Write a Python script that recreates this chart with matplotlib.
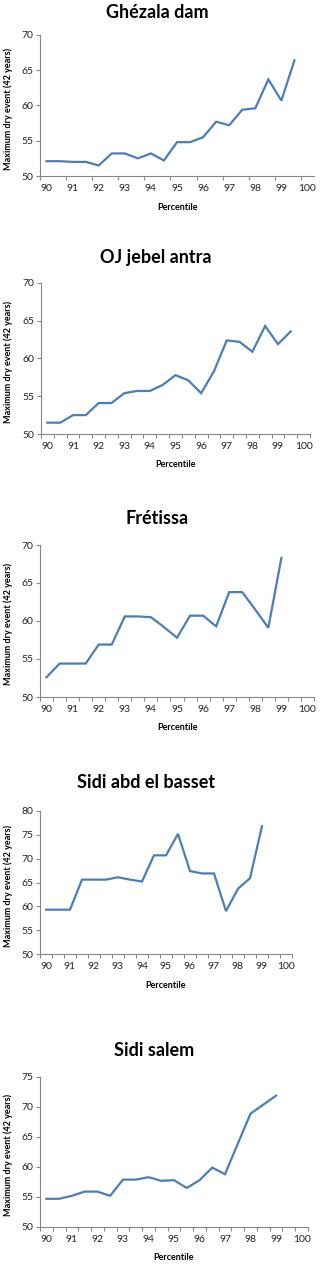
import numpy as np
import matplotlib
matplotlib.use("Agg")
import matplotlib.pyplot as plt
from matplotlib.ticker import FixedLocator

plt.rcParams["font.family"] = ["Lato", "DejaVu Sans"]

LINE_COLOR = "#4A7EBB"
AXIS_COLOR = "#868686"

TITLES = ["Ghézala dam", "OJ jebel antra", "Frétissa", "Sidi abd el basset", "Sidi salem"]
XTICK_LABELS = [90, 91, 92, 93, 94, 95, 96, 97, 98, 99, 100]

pct_long = [90, 90.5, 91, 91.5, 92, 92.5, 93, 93.5, 94, 94.5,
            95, 95.5, 96, 96.5, 97, 97.5, 98, 98.5, 99, 99.5]
pct_short = [90, 90.5, 91, 91.5, 92, 92.5, 93, 93.5, 94, 94.5,
             95, 95.5, 96, 96.5, 97, 97.5, 98, 98.5, 99]

ghezala = [52.1, 52.1, 52.0, 52.0, 51.5, 53.2, 53.2, 52.5, 53.2, 52.2,
           54.8, 54.8, 55.5, 57.7, 57.2, 59.4, 59.6, 63.7, 60.7, 66.4]
oj_jebel = [51.5, 51.5, 52.5, 52.5, 54.1, 54.1, 55.4, 55.7, 55.7, 56.5,
            57.8, 57.1, 55.4, 58.3, 62.4, 62.2, 60.9, 64.3, 61.9, 63.6]
fretissa = [52.6, 54.4, 54.4, 54.4, 56.9, 56.9, 60.6, 60.6, 60.5, 59.2,
            57.8, 60.7, 60.7, 59.3, 63.8, 63.8, 61.5, 59.1, 68.3]
sidi_abd = [59.3, 59.3, 59.3, 65.6, 65.6, 65.6, 66.1, 65.6, 65.2, 70.7,
            70.7, 75.2, 67.4, 66.9, 66.9, 59.0, 63.7, 65.9, 76.8]
sidi_salem = [54.7, 54.7, 55.2, 55.9, 55.9, 55.2, 57.9, 57.9, 58.3, 57.7,
              57.8, 56.5, 57.8, 59.9, 58.8, 63.9, 68.9, 70.4, 71.9]

W, H = 320, 1267

# (left, right, top, bottom) of plot area in px, title y, y max, tick step in categories
panels = [
    (pct_long, ghezala, (40, 314, 35, 176), 12, 70, 2),
    (pct_long, oj_jebel, (41, 310, 283, 434), 257, 70, 1),
    (pct_short, fretissa, (40, 314, 545, 697), 518, 70, 1),
    (pct_short, sidi_abd, (40, 292, 811, 954), 783, 80, 1),
    (pct_short, sidi_salem, (40, 308, 1077, 1227), 1050, 75, 1),
]

fig = plt.figure(figsize=(W / 100, H / 100), dpi=100)

for title, (x, y, box, ty, ymax, step) in zip(TITLES, panels):
    l, r, t, b = box
    ax = fig.add_axes([l / W, 1 - b / H, (r - l) / W, (b - t) / H])
    ax.plot(x, y, color=LINE_COLOR, linewidth=1.6, solid_joinstyle="miter")
    ax.set_xlim(89.75, 100.25)
    ax.set_ylim(50, ymax)

    ax.set_xticks(XTICK_LABELS)
    ax.set_xticklabels([str(v) for v in XTICK_LABELS])
    bounds = np.arange(89.75, 100.26, 0.5 * step)
    ax.xaxis.set_minor_locator(FixedLocator(bounds))
    ax.tick_params(axis="x", which="major", length=0, pad=6, labelsize=7.5, colors="#222222")
    ax.tick_params(axis="x", which="minor", length=3, width=0.8, color=AXIS_COLOR, direction="out")
    ax.set_yticks(np.arange(50, ymax + 1, 5))
    ax.tick_params(axis="y", length=3, width=0.8, color=AXIS_COLOR, pad=2, labelsize=7.5,
                   labelcolor="#222222")

    for side in ["top", "right"]:
        ax.spines[side].set_visible(False)
    for side in ["left", "bottom"]:
        ax.spines[side].set_color(AXIS_COLOR)
        ax.spines[side].set_linewidth(0.8)

    fig.text(((l + r) / 2 - 20) / W, 1 - ty / H, title, ha="center", va="center",
             fontsize=13, fontweight="bold")
    fig.text((l + r) / 2 / W, 1 - (b + 31) / H, "Percentile", ha="center", va="center",
             fontsize=6.5, fontweight="bold")
    fig.text(8 / W, 1 - ((t + b) / 2 + 3) / H, "Maximum dry event (42 years)", ha="center",
             va="center", rotation=90, fontsize=6.5, fontweight="bold")

fig.savefig("out.png", dpi=100)
